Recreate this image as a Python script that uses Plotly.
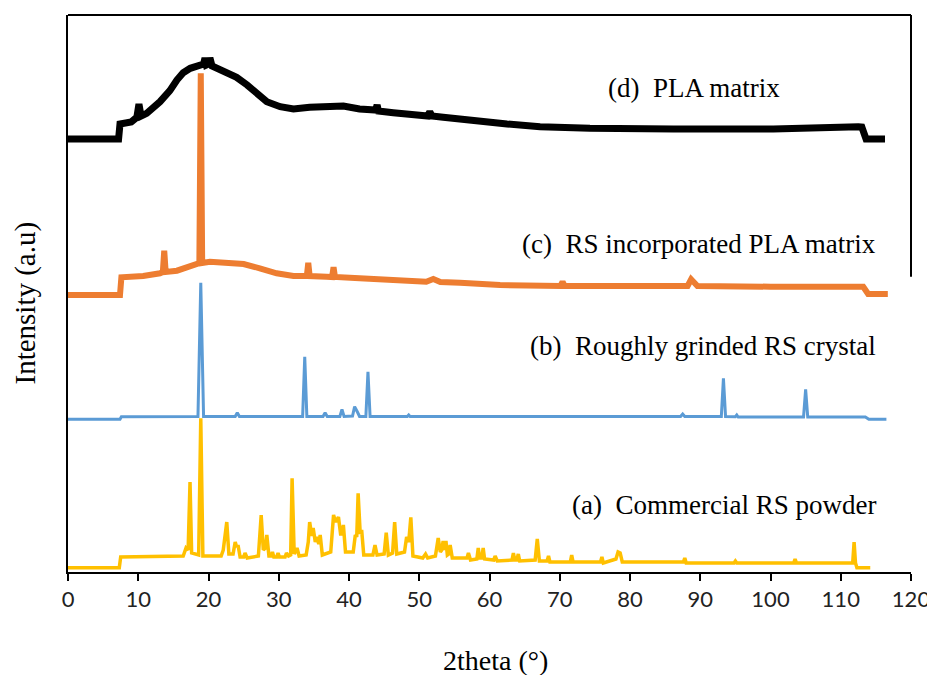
import plotly.graph_objects as go

# ---------------- data (2theta in degrees, intensity in a.u.) ----------------
# (a) Commercial RS powder
a_x = [0, 7.3, 7.5, 12, 16.4, 16.8, 17.1, 17.37, 17.6, 18.6, 18.9, 19.2, 21.8, 22.1, 22.6,
       22.9, 23.5, 23.8, 24.0, 24.2, 24.5, 25.0, 25.2, 25.5, 27.1, 27.5, 27.8, 28.1, 28.3,
       28.6, 28.9, 29.1, 29.3, 29.7, 29.9, 30.1, 30.9, 31.1, 31.4, 31.7, 31.9, 32.2, 32.6,
       32.9, 33.9, 34.2, 34.4, 34.7, 34.9, 35.2, 35.4, 35.7, 35.9, 36.2, 37.4, 37.8, 38.1,
       38.5, 38.8, 39.0, 39.2, 39.5, 40.6, 40.9, 41.1, 41.3, 41.6, 41.8, 42.1, 43.4, 43.7,
       44.0, 45.0, 45.3, 45.6, 46.2, 46.5, 46.8, 47.9, 48.2, 48.5, 48.8, 49.1, 50.5, 50.9,
       51.2, 52.3, 52.7, 53.0, 53.2, 53.4, 53.6, 53.8, 54.0, 54.2, 54.4, 54.7, 56.8, 57.0,
       57.3, 58.2, 58.4, 58.6, 58.9, 59.1, 59.3, 60.6, 60.8, 61.1, 63.2, 63.4, 63.6, 63.9,
       64.1, 64.3, 66.5, 66.8, 67.1, 68.2, 68.4, 68.6, 71.5, 71.7, 71.9, 75.8, 76.0, 76.2,
       78.0, 78.3, 78.6, 78.9, 87.6, 87.8, 88.0, 94.8, 95.0, 95.2, 103.3, 103.5, 103.7,
       111.7, 111.9, 112.1, 112.3, 114.2]
a_y = [4.3, 4.3, 15, 15.5, 16, 24, 22, 90, 19, 17, 153.7, 16, 16, 22, 50,
       18, 18, 30, 25, 27, 15, 15, 19, 14, 16, 57, 22, 24, 37,
       16, 16, 20, 15, 15, 19, 15, 15, 19, 16, 17, 93.7, 18, 24,
       16, 17, 30, 50, 36, 44, 30, 35, 28, 37, 17, 20, 57, 50,
       55, 38, 38, 47, 20, 20, 37, 35, 78.7, 38, 42, 17, 17, 27,
       17, 18, 39.3, 17, 19, 50, 18, 20, 35, 30, 54.7, 16, 14, 18,
       14, 16, 34, 20, 22, 31, 22, 31, 17, 18, 27, 14, 14, 19,
       12, 13, 24, 14, 14, 24, 13, 12, 16, 11, 12, 19, 12, 12,
       18, 11, 12, 33, 11, 11, 16, 10, 10, 17, 10, 10, 15, 9,
       13, 20, 19, 10, 10, 14, 9, 9, 11, 9, 9, 13, 9,
       9, 30, 9, 4.3, 4.3]

# (b) Roughly grinded RS crystal
b_x = [0, 7.4, 7.6, 18.5, 18.9, 19.3, 23.8, 24.1, 24.4, 33.4, 33.7, 34.0, 36.3, 36.6, 36.9,
       38.7, 39.0, 39.3, 40.5, 40.8, 41.2, 41.5, 42.4, 42.7, 43.0, 48.3, 48.5, 48.7, 74.1,
       76.9, 87.2, 87.5, 87.8, 93.0, 93.3, 93.6, 95.0, 95.2, 95.4, 104.7, 105.0, 105.3,
       113.5, 114.0, 116.5]
b_y = [152.7, 152.7, 155.3, 155.5, 289.3, 155.5, 155.5, 159.3, 155.5, 155.5, 215.3, 155.5,
       155.5, 159.3, 155.5, 155.5, 162.7, 155.5, 156, 165.3, 160, 155.5, 155.5, 200.3, 155.5,
       155.5, 157, 155.5, 155.5, 155.5, 155.5, 158, 155.5, 155.5, 193.7, 155.5, 155.3, 157,
       155, 155, 182.7, 155, 155, 152.7, 152.7]

# (c) RS incorporated PLA matrix
c_x = [0, 7.4, 7.6, 10.7, 13.1, 13.5, 13.7, 13.9, 15.5, 17.8, 18.7, 18.9, 19.1, 20.2, 22.6,
       25.0, 27.3, 29.7, 32.1, 34.0, 34.2, 34.4, 36.8, 37.6, 37.8, 38.0, 41.5, 46.3, 51.0,
       52.0, 53.0, 55.8, 61.5, 70.1, 70.4, 70.7, 80.0, 88.2, 88.7, 89.6, 100, 112.7, 113.2,
       113.9, 116.7]
c_y = [277, 277, 294.7, 296, 298.7, 300, 321.3, 300, 301.3, 308, 309, 498.7, 309, 310.3, 308.7,
       308, 303.7, 298.7, 296, 296, 309.3, 296, 295.3, 295, 304.7, 295, 293.7, 292, 290.3,
       293, 290, 289.3, 287, 286, 290.3, 286, 285.3, 286, 292.7, 286, 285.3, 285.3, 285.3,
       278, 278]

# (d) PLA matrix
d_x = [0, 7.2, 7.4, 9.0, 9.8, 10.1, 10.4, 11.2, 13.1, 14.5, 15.5, 16.4, 17.4, 18.8, 19.3,
       19.5, 19.7, 20.0, 20.2, 20.5, 21.2, 22.6, 24.0, 25.5, 26.9, 28.3, 30.2, 32.1, 34.4,
       36.8, 39.2, 41.5, 43.8, 44.0, 44.2, 46.3, 48.7, 51.2, 51.5, 51.8, 53.4, 55.8, 57.7,
       62.5, 67.2, 74.3, 86.2, 100.4, 112.5, 113.0, 113.6, 116.3]
d_y = [433, 433, 448, 450, 454.7, 468, 456, 458.7, 470.3, 481.3, 492, 499.3, 503.7, 506.3,
       508, 514, 507, 508, 514, 506, 503.7, 500.3, 494.7, 487, 478, 470.3, 465.3, 463,
       464.7, 466, 466, 463, 462, 467, 461, 459.3, 458, 456, 460, 456, 454.7, 452.7, 452,
       448, 445.3, 443.7, 443, 443, 445.3, 445, 433, 433]

labels = ["(a)\u00a0\u00a0Commercial RS powder",
          "(b)\u00a0\u00a0Roughly grinded RS crystal",
          "(c)\u00a0\u00a0RS incorporated PLA matrix",
          "(d)\u00a0\u00a0PLA matrix"]
label_x = [115.3, 115.3, 115.3, 101.6]
label_y = [67, 226, 328, 484]

x_ticks = list(range(0, 121, 10))

# ---------------- figure ----------------
# the page body adds an 8 px offset; the figure size and margins compensate for it
fig = go.Figure()
series = [(a_x, a_y, "#FFC000", 3.5), (b_x, b_y, "#5B9BD5", 3),
          (c_x, c_y, "#ED7D31", 6), (d_x, d_y, "#000000", 7)]
for xs, ys, col, w in series:
    fig.add_trace(go.Scatter(x=xs, y=ys, mode="lines",
                             line=dict(color=col, width=w),
                             hoverinfo="skip", showlegend=False))

for t, lx, ly in zip(labels, label_x, label_y):
    fig.add_annotation(x=lx, y=ly, text=t, showarrow=False, xanchor="right",
                       yanchor="middle",
                       font=dict(family="Liberation Serif", size=27, color="black"))

# axis titles
fig.add_annotation(xref="paper", yref="paper", x=0, y=0.482, xshift=-42,
                   text="Intensity (a.u)", textangle=-90, showarrow=False,
                   xanchor="center", yanchor="middle",
                   font=dict(family="Liberation Serif", size=29, color="black"))
fig.add_annotation(xref="x", yref="paper", x=60.8, y=0, yshift=-88,
                   text="2theta (°)", showarrow=False,
                   xanchor="center", yanchor="middle",
                   font=dict(family="Liberation Serif", size=28, color="black"))

# partial frame (top and right edges)
fig.add_shape(type="line", xref="paper", yref="paper", x0=0, x1=1, y0=1, y1=1,
              line=dict(color="black", width=2))
fig.add_shape(type="line", xref="paper", yref="paper", x0=1, x1=1, y0=1, y1=0.53,
              line=dict(color="black", width=2))

fig.update_layout(
    width=927, height=667,
    margin=dict(l=60, r=24, t=7, b=103),
    paper_bgcolor="white", plot_bgcolor="white",
    xaxis=dict(range=[0, 120], tickvals=x_ticks, ticks="outside", ticklen=7,
               tickwidth=2, tickcolor="black", showline=True, linecolor="black",
               linewidth=2, showgrid=False, zeroline=False, automargin=False,
               tickfont=dict(family="Lato", size=22, color="#222")),
    yaxis=dict(range=[0, 557], showticklabels=False, ticks="", showline=True,
               linecolor="black", linewidth=2, showgrid=False, zeroline=False,
               automargin=False),
)

fig.write_html("out.html")
